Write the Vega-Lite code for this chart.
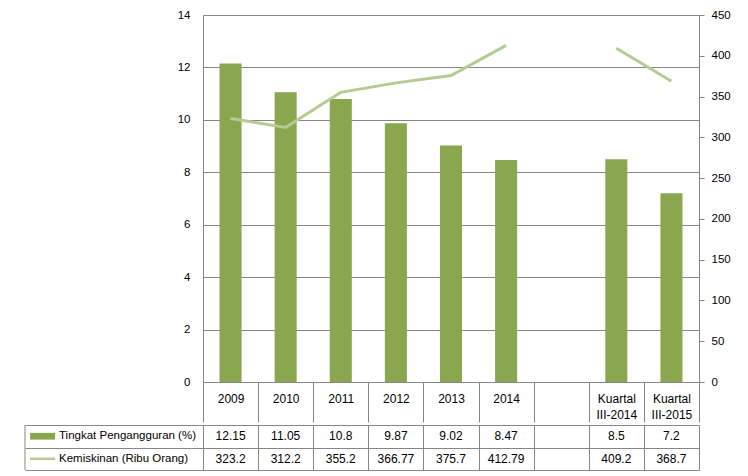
{
  "$schema": "https://vega.github.io/schema/vega-lite/v6.json",
  "padding": {"left": 22, "top": 9, "right": 0, "bottom": 0},
  "spacing": 0,
  "config": {
    "view": {"stroke": null},
    "font": "Liberation Sans",
    "axis": {"labelFont": "Liberation Sans", "labelFontSize": 11.5, "labelColor": "#000000"}
  },
  "datasets": {
    "main": [
      {"cat": "2009", "i": 0, "unemp": 12.15, "pov": 323.2},
      {"cat": "2010", "i": 1, "unemp": 11.05, "pov": 312.2},
      {"cat": "2011", "i": 2, "unemp": 10.8, "pov": 355.2},
      {"cat": "2012", "i": 3, "unemp": 9.87, "pov": 366.77},
      {"cat": "2013", "i": 4, "unemp": 9.02, "pov": 375.7},
      {"cat": "2014", "i": 5, "unemp": 8.47, "pov": 412.79},
      {"cat": "", "i": 6, "unemp": null, "pov": null},
      {"cat": "Kuartal III-2014", "i": 7, "unemp": 8.5, "pov": 409.2},
      {"cat": "Kuartal III-2015", "i": 8, "unemp": 7.2, "pov": 368.7}
    ],
    "legend": [
      {"key": "unemp", "name": "Tingkat Pengangguran (%)"},
      {"key": "pov", "name": "Kemiskinan (Ribu Orang)"}
    ],
    "border": [
      {"edge": "left"}
    ]
  },
  "data": {"name": "main"},
  "vconcat": [
    {
      "width": 496,
      "height": 367,
      "encoding": {
        "x": {
          "field": "cat",
          "type": "nominal",
          "sort": null,
          "scale": {
            "domain": ["2009", "2010", "2011", "2012", "2013", "2014", "", "Kuartal III-2014", "Kuartal III-2015"],
            "paddingInner": 0,
            "paddingOuter": 0
          },
          "axis": {
            "title": null,
            "orient": "bottom",
            "labelExpr": "split(datum.label, ' ')",
            "labelAngle": 0,
            "labelOverlap": false,
            "labelFlush": false,
            "labelFontSize": 12,
            "tickBand": "extent",
            "tickSize": 40,
            "tickColor": "#868686",
            "domainColor": "#868686",
            "labelPadding": -24,
            "labelBaseline": "middle",
            "labelLineHeight": 16,
            "grid": false
          }
        }
      },
      "layer": [
        {
          "mark": {"type": "bar", "width": {"band": 0.4}, "color": "#8aa64e"},
          "encoding": {
            "y": {
              "field": "unemp",
              "type": "quantitative",
              "scale": {"domain": [0, 14], "nice": false},
              "axis": {
                "title": null,
                "values": [0, 2, 4, 6, 8, 10, 12, 14],
                "grid": true,
                "gridColor": "#868686",
                "ticks": false,
                "domainColor": "#868686",
                "labelPadding": 13,
                "minExtent": 178
              }
            }
          }
        },
        {
          "mark": {"type": "line", "color": "#b4cb92", "strokeWidth": 3, "invalid": "break-paths-filter-domains"},
          "encoding": {
            "y": {
              "field": "pov",
              "type": "quantitative",
              "scale": {"domain": [0, 450], "nice": false},
              "axis": {
                "orient": "right",
                "title": null,
                "values": [0, 50, 100, 150, 200, 250, 300, 350, 400, 450],
                "grid": false,
                "tickSize": 5,
                "tickColor": "#868686",
                "domainColor": "#868686",
                "labelPadding": 7
              }
            }
          }
        }
      ],
      "resolve": {"scale": {"y": "independent"}}
    },
    {
      "width": 496,
      "height": 45,
      "layer": [
        {
          "transform": [
            {"fold": ["unemp", "pov"], "as": ["key", "val"]},
            {"filter": "isValid(datum.val)"}
          ],
          "mark": {"type": "text", "fontSize": 12, "color": "#000000", "baseline": "middle"},
          "encoding": {
            "x": {
              "field": "i",
              "type": "quantitative",
              "scale": {"domain": [-0.5, 8.5], "nice": false, "zero": false},
              "axis": {
                "title": null,
                "values": [-0.5, 0.5, 1.5, 2.5, 3.5, 4.5, 5.5, 6.5, 7.5, 8.5],
                "grid": true,
                "gridColor": "#868686",
                "labels": false,
                "ticks": false,
                "domain": false
              }
            },
            "y": {
              "field": "key",
              "type": "nominal",
              "scale": {"domain": ["unemp", "pov"], "paddingInner": 0, "paddingOuter": 0},
              "axis": {
                "title": null,
                "tickBand": "extent",
                "grid": true,
                "gridColor": "#868686",
                "labels": false,
                "ticks": true,
                "tickSize": 178,
                "tickColor": "#868686",
                "domain": true,
                "domainColor": "#868686"
              }
            },
            "text": {"field": "val", "type": "nominal"}
          }
        },
        {
          "data": {"name": "border"},
          "mark": {"type": "point", "shape": "M0,-1L0,1", "size": 2025, "filled": false, "stroke": "#868686", "strokeWidth": 1, "opacity": 1},
          "encoding": {
            "x": {"datum": -3.73, "type": "quantitative"}
          }
        },
        {
          "data": {"name": "legend"},
          "transform": [{"filter": "datum.key == 'unemp'"}],
          "mark": {"type": "point", "shape": "M-1,-0.27L1,-0.27L1,0.27L-1,0.27Z", "size": 625, "filled": true, "color": "#8aa64e", "opacity": 1},
          "encoding": {
            "x": {"datum": -3.41, "type": "quantitative"},
            "y": {"field": "key", "type": "nominal"}
          }
        },
        {
          "data": {"name": "legend"},
          "transform": [{"filter": "datum.key == 'pov'"}],
          "mark": {"type": "point", "shape": "M-1,0L1,0", "size": 625, "filled": false, "stroke": "#b4cb92", "strokeWidth": 2.5, "opacity": 1},
          "encoding": {
            "x": {"datum": -3.41, "type": "quantitative"},
            "y": {"field": "key", "type": "nominal"}
          }
        },
        {
          "data": {"name": "legend"},
          "mark": {"type": "text", "align": "left", "baseline": "middle", "fontSize": 11.5, "color": "#000000", "dx": 34},
          "encoding": {
            "x": {"datum": -3.73, "type": "quantitative"},
            "y": {"field": "key", "type": "nominal"},
            "text": {"field": "name", "type": "nominal"}
          }
        }
      ]
    }
  ]
}
